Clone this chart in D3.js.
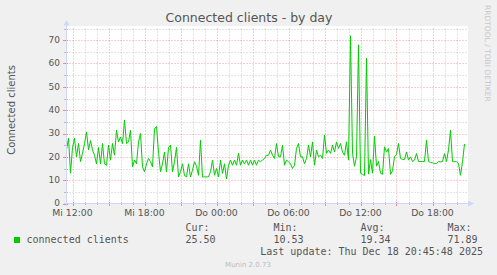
<!DOCTYPE html>
<html>
<head>
<meta charset="utf-8">
<script src="https://cdn.jsdelivr.net/npm/d3@7"></script>
<style>
  body { margin: 0; background: #f0f0f0; }
  text { font-family: "DejaVu Sans", sans-serif; }
  .mono { font-family: "DejaVu Sans Mono", monospace; }
</style>
</head>
<body>
<svg id="chart" width="497" height="275"></svg>
<script>
// Munin "users" graph, day view, one sample every 10 minutes
var startTime = new Date(2025, 11, 17, 11, 30),
    endTime = new Date(2025, 11, 18, 20, 50),
    stepMinutes = 10;

var clients = [
  23, 28, 13, 24, 28, 20, 25.7, 18, 21.5, 25.7,
  30.7, 23, 27, 23, 20.7, 17, 24, 17, 25.7, 17,
  16.4, 25, 18.6, 25.7, 20.7, 31.4, 26.4, 28.5, 25.7, 35.7,
  25.7, 26.4, 31.4, 15.7, 18.6, 17, 26.4, 30, 15.7, 13.6,
  17, 19.3, 17.9, 15.7, 32, 33, 22, 13.6, 17, 22,
  13.6, 24, 25, 13.6, 17.9, 24, 11.4, 13.6, 17, 12,
  11.4, 17, 11.4, 14.3, 17.9, 16, 12.1, 27.1, 11.4, 11.4,
  11.4, 11.4, 13.6, 18.6, 12.1, 15, 11.4, 18.6, 12.9, 17,
  10.5, 16.4, 18.6, 16.4, 18.6, 16.4, 21.5, 16.4, 18.6, 17,
  18.6, 16.4, 18.6, 16.4, 18.6, 16.4, 18.6, 17.9, 18.6, 19.3,
  20.7, 20.7, 22.9, 20.7, 19.3, 25.7, 20, 20, 25, 16.4,
  18.6, 17.9, 17, 15, 16.4, 23.6, 25.7, 20, 20, 17,
  19.3, 25, 20, 26.4, 16.4, 22.9, 20, 20.7, 19.3, 29.3,
  21.5, 22.9, 21.5, 25, 22.1, 26.4, 23.6, 25.7, 22.1, 20.7,
  26.4, 18.6, 71.89, 21.5, 16, 20, 68, 13, 12.5, 12,
  62.3, 12.6, 18.8, 13, 28.8, 16, 18, 13, 12.5, 24.3,
  22, 23.6, 12.5, 14, 20, 21, 25.7, 19.3, 18.9, 18.9,
  22.1, 18.6, 20, 18, 18.6, 21.4, 18, 18, 18, 18,
  27.1, 18, 17.5, 17.5, 17.1, 17.1, 18, 17.8, 18, 21.4,
  18, 23, 31.4, 18, 17.9, 17.9, 17.1, 12.1, 17.9, 25.5
];

var xTickLabels = ["Mi 12:00", "Mi 18:00", "Do 00:00", "Do 06:00", "Do 12:00", "Do 18:00"];
var yTicks = [0, 10, 20, 30, 40, 50, 60, 70];
var statNames = ["Cur:", "Min:", "Avg:", "Max:"];
var statValues = ["25.50", "10.53", "19.34", "71.89"];

var svg = d3.select("#chart"),
    width = +svg.attr("width"),
    height = +svg.attr("height");

var x = d3.scaleTime().domain([startTime, endTime]).range([66.5, 466.5]);
var y = d3.scaleLinear().domain([0, 75]).range([203.5, 28.5]);

var data = clients.map(function(v, i) {
  return { t: d3.timeMinute.offset(startTime, i * stepMinutes), v: v };
});

svg.append("rect").attr("width", width).attr("height", height).attr("fill", "#f0f0f0");
svg.append("rect")
    .attr("x", 67).attr("y", 26)
    .attr("width", 401).attr("height", 178)
    .attr("fill", "#fff");

// grille
var hours = x.ticks(d3.timeHour.every(1));
var gridMinor = "rgba(140,140,140,0.45)", gridMajor = "rgba(230,0,0,0.38)";

svg.append("g").selectAll("line")
    .data(hours)
    .enter().append("line")
      .attr("x1", function(d) { return Math.round(x(d)) + 0.5; })
      .attr("x2", function(d) { return Math.round(x(d)) + 0.5; })
      .attr("y1", y(75)).attr("y2", y(0))
      .attr("stroke", function(d) { return d.getHours() % 3 == 0 ? gridMajor : gridMinor; })
      .attr("stroke-dasharray", "1,2");

svg.append("g").selectAll("line")
    .data(d3.range(5, 80, 5))
    .enter().append("line")
      .attr("x1", 66.5).attr("x2", 467.5)
      .attr("y1", function(d) { return Math.round(y(d)) + 0.5; })
      .attr("y2", function(d) { return Math.round(y(d)) + 0.5; })
      .attr("stroke", function(d) { return d % 10 == 0 ? gridMajor : gridMinor; })
      .attr("stroke-dasharray", "1,2");

// petits ticks sur les axes
svg.append("g").selectAll("line")
    .data(hours)
    .enter().append("line")
      .attr("x1", function(d) { return Math.round(x(d)) + 0.5; })
      .attr("x2", function(d) { return Math.round(x(d)) + 0.5; })
      .attr("y1", 202).attr("y2", function(d) { return d.getHours() % 3 == 0 ? 206 : 205; })
      .attr("stroke", function(d) { return d.getHours() % 3 == 0 ? "#e88" : "#bbb"; });

svg.append("g").selectAll("line")
    .data(d3.range(0, 80, 5))
    .enter().append("line")
      .attr("x1", function(d) { return d % 10 == 0 ? 63 : 64; }).attr("x2", 68)
      .attr("y1", function(d) { return Math.round(y(d)) + 0.5; })
      .attr("y2", function(d) { return Math.round(y(d)) + 0.5; })
      .attr("stroke", function(d) { return d % 10 == 0 ? "#e88" : "#bbb"; });

// courbe
svg.append("path")
    .datum(data)
    .attr("fill", "none")
    .attr("stroke", "#00cc00")
    .attr("stroke-width", 1)
    .attr("d", d3.line()
        .x(function(d) { return x(d.t); })
        .y(function(d) { return y(d.v); }));

// axes avec fleches
var axisColor = "#cfd6f8";
svg.append("line").attr("x1", 66.5).attr("x2", 66.5).attr("y1", 206).attr("y2", 23)
    .attr("stroke", axisColor);
svg.append("path").attr("d", "M63.5,25.5L66.5,20L69.5,25.5Z").attr("fill", axisColor);
svg.append("line").attr("x1", 64).attr("x2", 470).attr("y1", 203.5).attr("y2", 203.5)
    .attr("stroke", axisColor);
svg.append("path").attr("d", "M468,200.5L474,203.5L468,206.5Z").attr("fill", axisColor);

// labels
svg.append("g").selectAll("text")
    .data(yTicks)
    .enter().append("text")
      .attr("x", 60)
      .attr("y", function(d) { return y(d); })
      .attr("dy", "0.33em")
      .attr("text-anchor", "end")
      .attr("font-size", "9px")
      .attr("fill", "#555")
      .text(function(d) { return d; });

var labelTimes = x.ticks(d3.timeHour.every(6));
svg.append("g").selectAll("text")
    .data(labelTimes)
    .enter().append("text")
      .attr("x", function(d) { return x(d); })
      .attr("y", 216)
      .attr("text-anchor", "middle")
      .attr("font-size", "9.3px")
      .attr("fill", "#555")
      .text(function(d, i) { return xTickLabels[i]; });

svg.append("text")
    .attr("x", 249).attr("y", 22)
    .attr("text-anchor", "middle")
    .attr("font-size", "12.5px")
    .attr("fill", "#555")
    .text("Connected clients - by day");

svg.append("text")
    .attr("transform", "translate(15,110)rotate(-90)")
    .attr("text-anchor", "middle")
    .attr("font-size", "10px")
    .attr("fill", "#555")
    .text("Connected clients");

svg.append("text")
    .attr("transform", "translate(485,5)rotate(90)")
    .attr("font-size", "7.5px")
    .attr("fill", "#c8c8c8")
    .text("RRDTOOL / TOBI OETIKER");

// legende
svg.append("rect").attr("x", 14).attr("y", 237).attr("width", 6).attr("height", 6)
    .attr("fill", "#00cc00");
svg.append("text").attr("class", "mono")
    .attr("x", 26.5).attr("y", 243)
    .attr("font-size", "10px").attr("fill", "#555")
    .text("connected clients");

var statX = [185.5, 273.5, 360.5, 447.5];
var stats = svg.append("g").selectAll("g")
    .data(statNames)
    .enter().append("g");
stats.append("text").attr("class", "mono")
    .attr("x", function(d, i) { return statX[i]; }).attr("y", 231)
    .attr("font-size", "10px").attr("fill", "#555")
    .text(function(d) { return d; });
stats.append("text").attr("class", "mono")
    .attr("x", function(d, i) { return statX[i]; }).attr("y", 243)
    .attr("font-size", "10px").attr("fill", "#555")
    .text(function(d, i) { return statValues[i]; });

svg.append("text").attr("class", "mono")
    .attr("x", 483).attr("y", 255)
    .attr("text-anchor", "end")
    .attr("font-size", "10px").attr("fill", "#555")
    .text("Last update: Thu Dec 18 20:45:48 2025");

svg.append("text")
    .attr("x", 248).attr("y", 267)
    .attr("text-anchor", "middle")
    .attr("font-size", "7px")
    .attr("fill", "#bbb")
    .text("Munin 2.0.73");
</script>
</body>
</html>
